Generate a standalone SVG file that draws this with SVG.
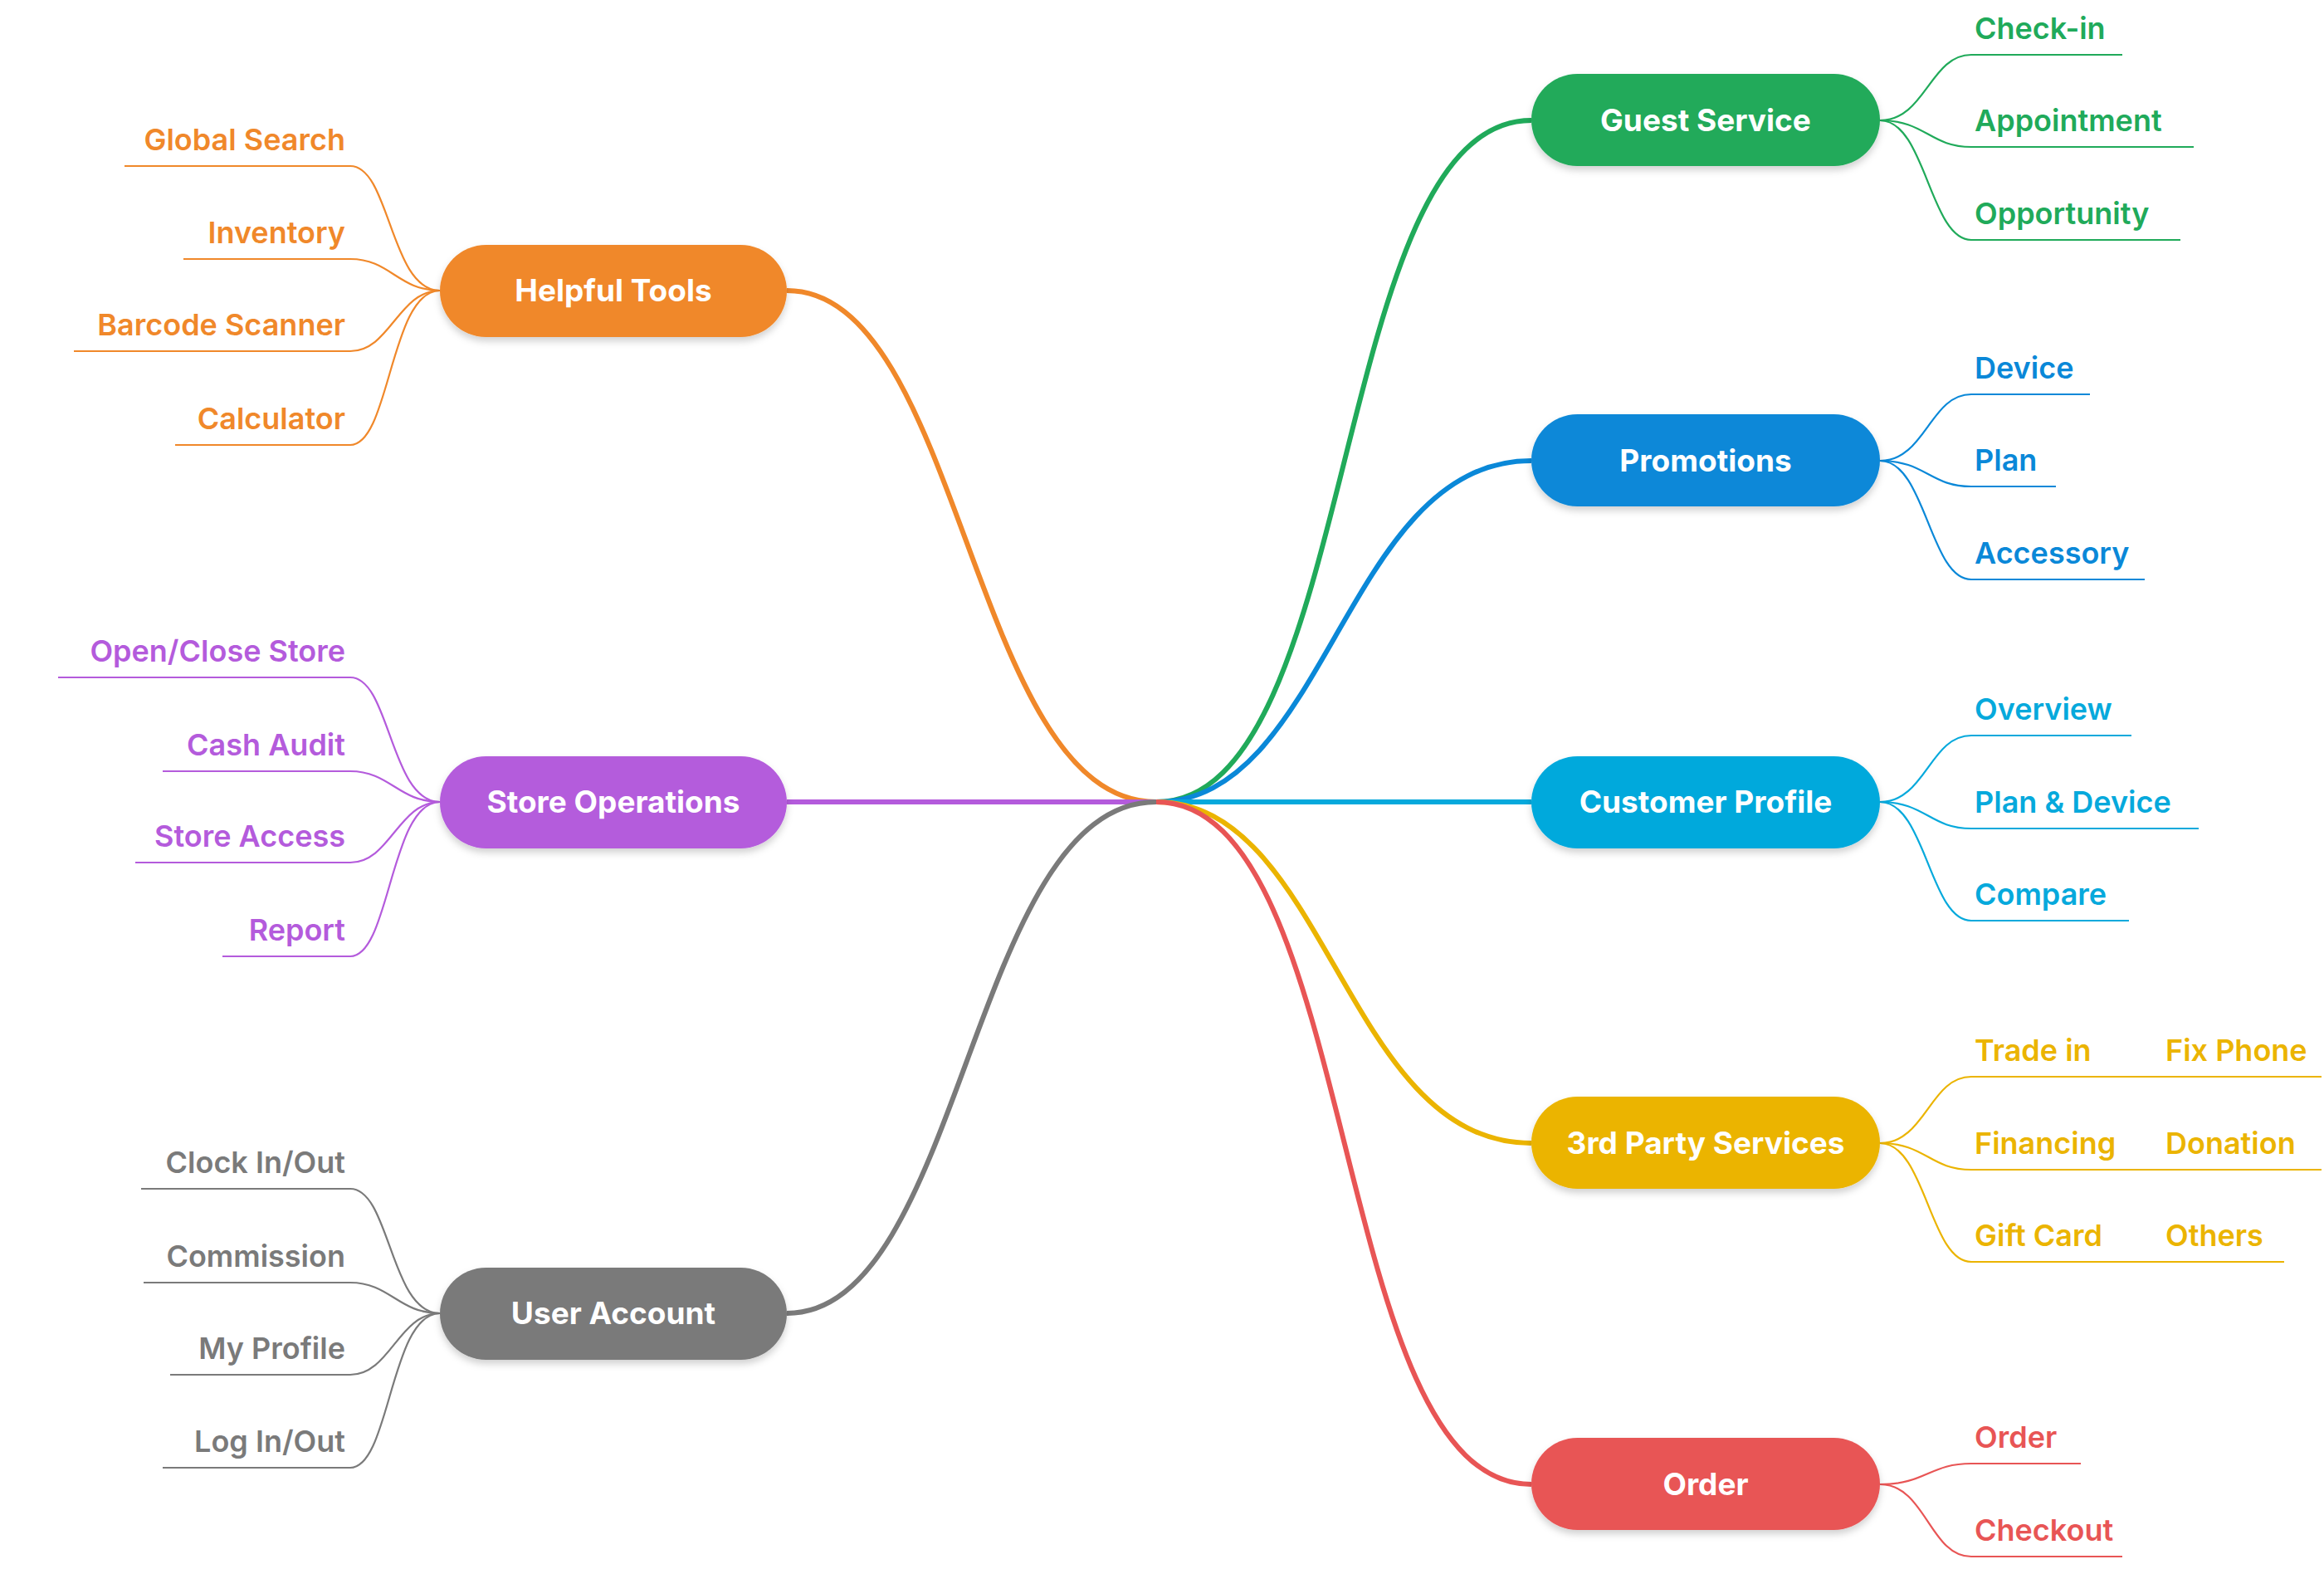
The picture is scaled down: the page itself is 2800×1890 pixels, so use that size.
<svg xmlns="http://www.w3.org/2000/svg" width="2800" height="1890" viewBox="0 0 2800 1890">
<defs>
<filter id="sh" x="-10%" y="-20%" width="120%" height="150%"><feDropShadow dx="0" dy="5" stdDeviation="4" flood-color="#000" flood-opacity="0.18"/></filter>
</defs>
<style>
.n{font-family:Inter,"Noto Sans",sans-serif;font-weight:700;font-size:37px;fill:#fff;text-anchor:middle}
.l{font-family:Inter,"Noto Sans",sans-serif;font-weight:600;font-size:36px}
.r{text-anchor:end}
path,line{fill:none}
.b{stroke-width:6}
.t{stroke-width:2.2}
.o{stroke:#F0882A}.g{stroke:#20AA5A}.bl{stroke:#0A88D8}.c{stroke:#06A9DC}.y{stroke:#EBB400}.rd{stroke:#E85555}.p{stroke:#B45BDC}.gr{stroke:#7A7A7A}
.fo{fill:#F0882A}.fg{fill:#20AA5A}.fb{fill:#0A88D8}.fc{fill:#06A9DC}.fy{fill:#EBB400}.fr{fill:#E85555}.fp{fill:#B45BDC}.fgr{fill:#7A7A7A}
</style>
<g id="connectors">
<path class="b o" d="M948 350 C1160 350 1170 966 1393 966"/>
<path class="b p" d="M948 966 L1393 966"/>
<path class="b gr" d="M948 1582 C1160 1582 1170 966 1393 966"/>
<path class="b g" d="M1393 966 C1640 966 1600 145 1845 145"/>
<path class="b bl" d="M1393 966 C1600 966 1620 555 1845 555"/>
<path class="b c" d="M1393 966 L1845 966"/>
<path class="b y" d="M1393 966 C1600 966 1620 1377 1845 1377"/>
<path class="b rd" d="M1393 966 C1640 966 1600 1788 1845 1788"/>
<!-- left leaves -->
<path class="t o" d="M150 200 H422 C470 200 470 350 530 350"/>
<path class="t o" d="M221 312 H422 C470 312 480 350 530 350"/>
<path class="t o" d="M89 423 H422 C470 423 480 350 530 350"/>
<path class="t o" d="M211 536 H422 C470 536 470 350 530 350"/>
<path class="t p" d="M70 816 H422 C470 816 470 966 530 966"/>
<path class="t p" d="M196 929 H422 C470 929 480 966 530 966"/>
<path class="t p" d="M163 1039 H422 C470 1039 480 966 530 966"/>
<path class="t p" d="M268 1152 H422 C470 1152 470 966 530 966"/>
<path class="t gr" d="M170 1432 H422 C470 1432 470 1582 530 1582"/>
<path class="t gr" d="M173 1545 H422 C470 1545 480 1582 530 1582"/>
<path class="t gr" d="M205 1656 H422 C470 1656 480 1582 530 1582"/>
<path class="t gr" d="M196 1768 H422 C470 1768 470 1582 530 1582"/>
<!-- right leaves -->
<path class="t g" d="M2265 145 C2320 145 2325 66 2375 66 H2557"/>
<path class="t g" d="M2265 145 C2320 145 2325 177 2375 177 H2643"/>
<path class="t g" d="M2265 145 C2320 145 2325 289 2375 289 H2627"/>
<path class="t bl" d="M2265 555 C2320 555 2325 475 2375 475 H2518"/>
<path class="t bl" d="M2265 555 C2320 555 2325 586 2375 586 H2477"/>
<path class="t bl" d="M2265 555 C2320 555 2325 698 2375 698 H2584"/>
<path class="t c" d="M2265 966 C2320 966 2325 886 2375 886 H2568"/>
<path class="t c" d="M2265 966 C2320 966 2325 998 2375 998 H2649"/>
<path class="t c" d="M2265 966 C2320 966 2325 1109 2375 1109 H2565"/>
<path class="t y" d="M2265 1377 C2320 1377 2325 1297 2375 1297 H2797"/>
<path class="t y" d="M2265 1377 C2320 1377 2325 1409 2375 1409 H2797"/>
<path class="t y" d="M2265 1377 C2320 1377 2325 1520 2375 1520 H2752"/>
<path class="t rd" d="M2265 1788 C2320 1788 2325 1763 2375 1763 H2507"/>
<path class="t rd" d="M2265 1788 C2320 1788 2325 1875 2375 1875 H2557"/>
</g>
<g id="helpful-tools"><rect x="530" y="295" width="418" height="111" rx="55.5" class="fo" filter="url(#sh)"/><text class="n" x="739" y="363">Helpful Tools</text></g>
<g id="store-operations"><rect x="530" y="911" width="418" height="111" rx="55.5" class="fp" filter="url(#sh)"/><text class="n" x="739" y="979">Store Operations</text></g>
<g id="user-account"><rect x="530" y="1527" width="418" height="111" rx="55.5" class="fgr" filter="url(#sh)"/><text class="n" x="739" y="1595">User Account</text></g>
<g id="guest-service"><rect x="1845" y="89" width="420" height="111" rx="55.5" class="fg" filter="url(#sh)"/><text class="n" x="2055" y="158">Guest Service</text></g>
<g id="promotions"><rect x="1845" y="499" width="420" height="111" rx="55.5" class="fb" filter="url(#sh)"/><text class="n" x="2055" y="568">Promotions</text></g>
<g id="customer-profile"><rect x="1845" y="911" width="420" height="111" rx="55.5" class="fc" filter="url(#sh)"/><text class="n" x="2055" y="979">Customer Profile</text></g>
<g id="third-party"><rect x="1845" y="1321" width="420" height="111" rx="55.5" class="fy" filter="url(#sh)"/><text class="n" x="2055" y="1390">3rd Party Services</text></g>
<g id="order"><rect x="1845" y="1732" width="420" height="111" rx="55.5" class="fr" filter="url(#sh)"/><text class="n" x="2055" y="1801">Order</text></g>
<g id="leaves-left">
<text class="l r fo" x="416" y="181">Global Search</text>
<text class="l r fo" x="416" y="293">Inventory</text>
<text class="l r fo" x="416" y="404">Barcode Scanner</text>
<text class="l r fo" x="416" y="517">Calculator</text>
<text class="l r fp" x="416" y="797">Open/Close Store</text>
<text class="l r fp" x="416" y="910">Cash Audit</text>
<text class="l r fp" x="416" y="1020">Store Access</text>
<text class="l r fp" x="416" y="1133">Report</text>
<text class="l r fgr" x="416" y="1413">Clock In/Out</text>
<text class="l r fgr" x="416" y="1526">Commission</text>
<text class="l r fgr" x="416" y="1637">My Profile</text>
<text class="l r fgr" x="416" y="1749">Log In/Out</text>
</g>
<g id="leaves-right">
<text class="l fg" x="2379" y="47">Check-in</text>
<text class="l fg" x="2379" y="158">Appointment</text>
<text class="l fg" x="2379" y="270">Opportunity</text>
<text class="l fb" x="2379" y="456">Device</text>
<text class="l fb" x="2379" y="567">Plan</text>
<text class="l fb" x="2379" y="679">Accessory</text>
<text class="l fc" x="2379" y="867">Overview</text>
<text class="l fc" x="2379" y="979">Plan &amp; Device</text>
<text class="l fc" x="2379" y="1090">Compare</text>
<text class="l fy" x="2379" y="1278">Trade in</text>
<text class="l fy" x="2609" y="1278">Fix Phone</text>
<text class="l fy" x="2379" y="1390">Financing</text>
<text class="l fy" x="2609" y="1390">Donation</text>
<text class="l fy" x="2379" y="1501">Gift Card</text>
<text class="l fy" x="2609" y="1501">Others</text>
<text class="l fr" x="2379" y="1744">Order</text>
<text class="l fr" x="2379" y="1856">Checkout</text>
</g>
</svg>
